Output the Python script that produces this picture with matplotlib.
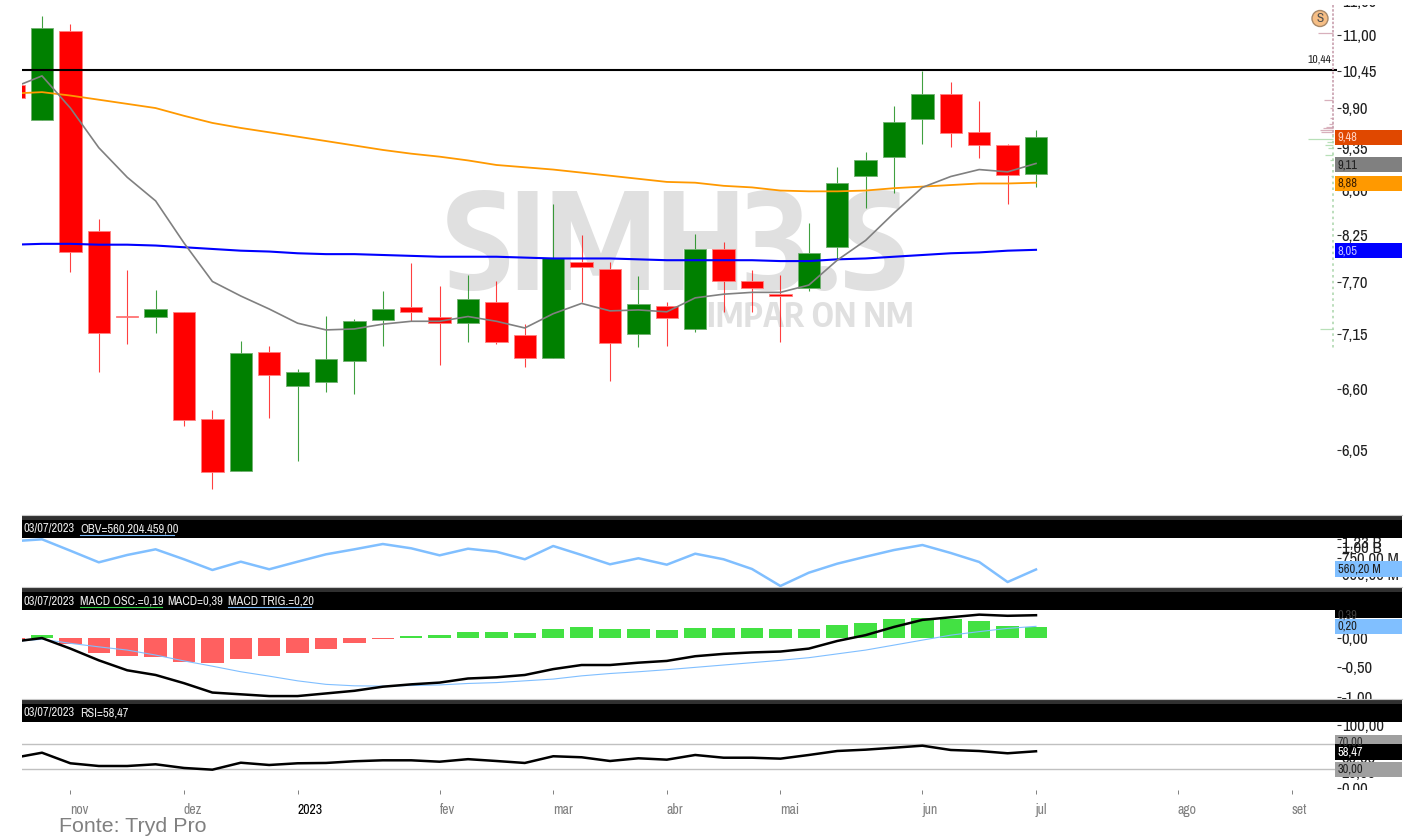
import numpy as np
import matplotlib
matplotlib.use("Agg")
import matplotlib.pyplot as plt
from matplotlib import font_manager as fm
from matplotlib.patches import Rectangle, Circle
from matplotlib.ticker import FixedLocator, FixedFormatter, NullLocator

# the chart text is a squeezed UI font, use a narrow one when it is there
installed = {f.name for f in fm.fontManager.ttflist}
has_narrow = "Archivo Narrow" in installed
has_cond = "Encode Sans Condensed" in installed
plt.rcParams["font.family"] = ["Archivo Narrow", "Roboto"] if has_narrow else ["Roboto"]
fs = 1.0 if has_narrow else 0.84
mark_font = ["Encode Sans Condensed", "Roboto"] if has_cond else ["Roboto"]

W, H = 1412, 838

# weekly candles, the first one is cut by the left edge
opens = [10.24, 9.73, 11.06, 8.29, 7.34, 7.33, 7.38, 6.32, 5.87, 6.96, 6.63, 6.67, 6.87,
         7.29, 7.43, 7.33, 7.26, 7.48, 7.14, 6.90, 7.93, 7.85, 7.15, 7.44, 7.20, 8.08,
         7.72, 7.57, 7.64, 8.10, 8.97, 9.23, 9.74, 10.10, 9.56, 9.39, 9.00]
closes = [10.05, 11.11, 8.05, 7.16, 7.32, 7.41, 6.31, 5.86, 6.95, 6.74, 6.77, 6.89, 7.28,
          7.41, 7.38, 7.26, 7.52, 7.07, 6.90, 7.97, 7.87, 7.06, 7.46, 7.31, 8.08, 7.71,
          7.64, 7.55, 8.03, 8.89, 9.19, 9.70, 10.10, 9.55, 9.39, 8.99, 9.50]
highs = [10.24, 11.30, 11.17, 8.44, 7.84, 7.62, 7.38, 6.41, 7.08, 7.03, 6.80, 7.34, 7.30,
         7.60, 7.92, 7.66, 7.78, 7.72, 7.25, 8.62, 8.24, 7.93, 7.77, 7.49, 8.26, 8.16,
         7.84, 7.78, 8.39, 9.10, 9.29, 9.93, 10.45, 10.28, 10.00, 9.40, 9.59]
lows = [10.05, 9.73, 7.82, 6.77, 7.05, 7.16, 6.26, 5.72, 5.87, 6.33, 5.95, 6.57, 6.56,
        7.03, 7.28, 6.84, 7.07, 7.05, 6.82, 6.90, 7.48, 6.68, 7.01, 7.03, 7.17, 7.38,
        7.38, 7.07, 7.61, 7.95, 8.57, 8.76, 9.40, 9.36, 9.21, 8.62, 8.83]

ma_gray = [10.20, 10.37, 9.90, 9.35, 8.96, 8.66, 8.15, 7.71, 7.55, 7.41, 7.26, 7.19, 7.20,
           7.25, 7.28, 7.28, 7.33, 7.28, 7.21, 7.36, 7.47, 7.39, 7.40, 7.38, 7.53, 7.57,
           7.59, 7.59, 7.67, 7.95, 8.18, 8.51, 8.83, 8.97, 9.06, 9.03, 9.14]
ma_orange = [10.11, 10.13, 10.08, 10.02, 9.96, 9.90, 9.79, 9.69, 9.62, 9.56, 9.50, 9.44,
             9.38, 9.32, 9.27, 9.23, 9.18, 9.12, 9.09, 9.06, 9.02, 8.98, 8.94, 8.90, 8.89,
             8.85, 8.83, 8.79, 8.78, 8.78, 8.79, 8.82, 8.84, 8.86, 8.88, 8.88, 8.89]
ma_blue = [8.13, 8.14, 8.14, 8.13, 8.13, 8.12, 8.10, 8.08, 8.06, 8.05, 8.03, 8.02, 8.02,
           8.01, 8.00, 7.99, 7.99, 7.99, 7.98, 7.97, 7.97, 7.97, 7.96, 7.95, 7.95, 7.95,
           7.95, 7.94, 7.94, 7.96, 7.97, 7.99, 8.01, 8.03, 8.04, 8.06, 8.07]
level = 10.46

# volume at price on the right edge
vp_up_price = [11.03, 10.02, 9.90, 9.76, 9.67, 9.64, 9.62, 9.59, 9.56]
vp_up_size = [15, 9, 3, 3, 4, 7, 10, 13, 12]
vp_down_price = [9.47, 9.43, 9.39, 9.35, 9.25, 9.19, 8.98, 7.20]
vp_down_size = [25, 6, 8, 5, 8, 3, 2, 13]

obv = [1150, 1207, 903, 672, 810, 936, 726, 553, 683, 563, 683, 824, 936, 1071, 960, 803,
       950, 880, 726, 1018, 810, 639, 745, 633, 837, 726, 567, 368, 516, 649, 775, 919,
       1044, 852, 678, 407, 560.2]

macd_osc = [-0.02, 0.05, -0.10, -0.26, -0.31, -0.33, -0.40, -0.43, -0.36, -0.31, -0.26,
            -0.18, -0.09, -0.02, 0.03, 0.05, 0.10, 0.10, 0.085, 0.16, 0.19, 0.16, 0.16,
            0.14, 0.18, 0.18, 0.18, 0.16, 0.16, 0.23, 0.26, 0.32, 0.35, 0.33, 0.29, 0.21, 0.19]
macd = [-0.06, 0.0, -0.18, -0.38, -0.55, -0.63, -0.77, -0.93, -0.96, -0.99, -0.99, -0.945,
        -0.90, -0.83, -0.79, -0.76, -0.69, -0.67, -0.63, -0.53, -0.46, -0.46, -0.42, -0.39,
        -0.31, -0.27, -0.245, -0.23, -0.18, -0.05, 0.05, 0.19, 0.31, 0.355, 0.40, 0.38, 0.39]
macd_trig = [-0.06, -0.02, -0.09, -0.15, -0.205, -0.29, -0.39, -0.48, -0.575, -0.65, -0.73,
             -0.79, -0.815, -0.82, -0.81, -0.80, -0.775, -0.76, -0.73, -0.70, -0.645, -0.605,
             -0.575, -0.54, -0.50, -0.46, -0.42, -0.38, -0.335, -0.27, -0.205, -0.12, -0.035,
             0.05, 0.11, 0.165, 0.20]

rsi = [48, 56.2, 39.5, 35.2, 35.2, 37.9, 32.1, 29.4, 40.4, 36.8, 39.5, 40, 42.7, 44.2, 44.2,
       42, 46, 43.1, 40, 50.6, 49, 43.1, 47.4, 45.2, 52.6, 48.3, 48.3, 46.8, 52.6, 58.9, 61,
       64.1, 67.3, 60.5, 58.9, 55.3, 58.47]

price_ticks = [11.55, 11.00, 10.45, 9.90, 9.35, 8.80, 8.25, 7.70, 7.15, 6.60, 6.05, 5.50]
month_pos = [1, 5, 9, 14, 18, 22, 26, 31, 35, 40, 44]
month_labels = ["nov", "dez", "2023", "fev", "mar", "abr", "mai", "jun", "jul", "ago", "set"]

idx = np.arange(-1, 36)
spacing = 28.4
x_left, x_right = 22, 1337
xlim = ((x_left - 42) / spacing, (x_right - 42) / spacing)


def comma(v):
    return f"{v:.2f}".replace(".", ",")


def panel(top, bottom, ylim, log=False):
    ax = fig.add_axes([x_left / W, 1 - bottom / H, (x_right - x_left) / W, (bottom - top) / H])
    if log:
        ax.set_yscale("log")
    ax.set_xlim(*xlim)
    ax.set_ylim(*ylim)
    for s in ax.spines.values():
        s.set_visible(False)
    ax.yaxis.tick_right()
    ax.yaxis.set_minor_locator(NullLocator())
    ax.tick_params(axis="y", length=2.9, width=0.8, pad=0.5, labelsize=12 * fs,
                   color="#303030", labelcolor="#202020")
    ax.set_xticks([])
    return ax


def set_yticks(ax, ticks, labels):
    ax.yaxis.set_major_locator(FixedLocator(ticks))
    ax.yaxis.set_major_formatter(FixedFormatter(labels))


fig = plt.figure(figsize=(W / 100, H / 100), dpi=100, facecolor="white")

# price panel
ax = panel(0, 515, (5.506, 11.569), log=True)
set_yticks(ax, price_ticks, [comma(t) for t in price_ticks])
ax.text((676 - x_left) / (x_right - x_left), 1 - 250 / 515, "SIMH3.S", transform=ax.transAxes,
        family=mark_font, fontsize=96, fontweight="bold", color="#E0E0E0",
        ha="center", va="center", zorder=0)
ax.text((810 - x_left) / (x_right - x_left), 1 - 317 / 515, "IMPAR ON NM", transform=ax.transAxes,
        family=mark_font, fontsize=24, fontweight="bold", color="#E0E0E0",
        ha="center", va="center", zorder=0)

for i, o, c, h, l in zip(idx, opens, closes, highs, lows):
    col = "#008000" if c > o else "#FF0000"
    edge = "#70B070" if c > o else "#FF8080"
    ax.vlines(i, l, h, color=col, lw=0.8, alpha=0.75, zorder=2)
    ax.bar(i, abs(c - o), bottom=min(o, c), width=0.79, color=col, edgecolor=edge,
           linewidth=0.6, zorder=3)

ax.plot(idx, ma_blue, color="#0000FF", lw=1.5, zorder=4)
ax.plot(idx, ma_orange, color="#FF9900", lw=1.3, zorder=4)
ax.plot(idx, ma_gray, color="#808080", lw=1.2, zorder=5)
ax.axhline(level, color="black", lw=1.5, zorder=6)

vp_right = xlim[1] - 4 / spacing
ax.hlines(vp_up_price, vp_right - np.array(vp_up_size) / spacing, vp_right, color="#D8B0BC", lw=0.9)
ax.hlines(vp_down_price, vp_right - np.array(vp_down_size) / spacing, vp_right, color="#B8E0B8", lw=0.9)

# OBV panel
ax_obv = panel(538, 587, (358.6, 1248), log=True)
set_yticks(ax_obv, [1230, 1000, 750, 500], ["", "1,00 B", "750,00 M", "500,00 M"])
ax_obv.annotate("1,23 B", xy=(1, 1230), xycoords=("axes fraction", "data"), xytext=(3.4, -3.2),
                textcoords="offset points", fontsize=12 * fs, color="#202020", va="center",
                annotation_clip=False)
ax_obv.plot(idx, obv, color="#80BFFF", lw=1.8)

# MACD panel
ax_macd = panel(610, 699, (-1.04, 0.479))
set_yticks(ax_macd, [0.0, -0.5, -1.0], ["0,00", "-0,50", "-1,00"])
osc_colors = ["#43E143" if v > 0 else "#FF6060" for v in macd_osc]
ax_macd.bar(idx, macd_osc, width=0.79, color=osc_colors, linewidth=0, zorder=2)
ax_macd.plot(idx, macd_trig, color="#80BFFF", lw=0.8, zorder=3)
ax_macd.plot(idx, macd, color="black", lw=1.8, zorder=4)

# RSI panel
ax_rsi = panel(722, 790, (-2.7, 104.7))
set_yticks(ax_rsi, [100, 75, 50, 25, 0], ["100,00", "75,00", "50,00", "25,00", "0,00"])
ax_rsi.axhline(70, color="#C0C0C0", lw=1)
ax_rsi.axhline(30, color="#C0C0C0", lw=1)
ax_rsi.plot(idx, rsi, color="black", lw=1.8)
ax_rsi.set_xticks(month_pos)
ax_rsi.set_xticklabels(month_labels, ha="left", fontsize=10 * fs)
ax_rsi.tick_params(axis="x", length=3.2, width=0.7, pad=6, color="#808080")
for lab in ax_rsi.get_xticklabels():
    lab.set_color("black" if lab.get_text() == "2023" else "#808080")

# headers, price tags and other screen furniture in pixel coords
ov = fig.add_axes([0, 0, 1, 1], zorder=10)
ov.set_xlim(0, W)
ov.set_ylim(H, 0)
ov.axis("off")
ov.patch.set_alpha(0)

ov.add_patch(Rectangle((1335, 0), 67, 5, color="white", lw=0))
ov.add_patch(Rectangle((1335, 790), 67, 8, color="white", lw=0))
ov.plot([1333, 1333], [5, 135], color="#C8A0AE", lw=1.2, ls=(0, (1.5, 1)))
ov.plot([1333, 1333], [135, 350], color="#B0D8B0", lw=1.2, ls=(0, (1.5, 2)))

for y0, y1 in [(515, 538), (587, 610), (699, 722)]:
    ov.add_patch(Rectangle((22, y0), 1380, y1 - y0, color="black", lw=0))
    ov.add_patch(Rectangle((22, y0), 1380, 5, color="#303030", lw=0))
    ov.plot([22, 1402], [y0, y0], color="#C8C8C8", lw=0.8)


def head(x, y, s):
    ov.text(x, y, s, color="#E8E8E8", fontsize=9 * fs, va="center", ha="left")


head(24, 528.5, "03/07/2023")
head(80, 528.5, "OBV=560.204.459,00")
ov.plot([80, 174], [534.5, 534.5], color="#80BFFF", lw=0.8)
head(24, 601, "03/07/2023")
head(80, 601, "MACD OSC.=0,19")
head(167, 601, "MACD=0,39")
head(228, 601, "MACD TRIG.=0,20")
ov.plot([80, 162], [606.5, 606.5], color="#2ECC40", lw=0.8)
ov.plot([228, 311], [606.5, 606.5], color="#80BFFF", lw=0.8)
head(24, 712.5, "03/07/2023")
head(80, 712.5, "RSI=58,47")

tags = [
    (130, 145, "#E04800", "9,48", "#FFD0C0"),
    (157, 172, "#808080", "9,11", "#202020"),
    (176, 191, "#FF9900", "8,88", "#402000"),
    (243, 258, "#0000FF", "8,05", "#C0C0FF"),
    (561, 577, "#80BFFF", "560,20 M", "#202020"),
    (610, 618, "black", "0,39", "#404040"),
    (618.5, 634, "#80BFFF", "0,20", "#202020"),
    (735, 751, "#A0A0A0", "70,00", "#303030"),
    (744, 760, "black", "58,47", "white"),
    (761.5, 777, "#A0A0A0", "30,00", "#202020"),
]
for y0, y1, col, s, tc in tags:
    ov.add_patch(Rectangle((1335, y0), 67, y1 - y0, color=col, lw=0))
    yc = 615 if s == "0,39" else 742 if s == "70,00" else (y0 + y1) / 2
    ov.text(1338, yc, s, color=tc, fontsize=9 * fs, va="center", ha="left")

ov.text(1331, 60, "10,44", color="#202020", fontsize=8.4 * fs, ha="right", va="center")
ov.add_patch(Circle((1320, 18.5), 8, facecolor="#F6BE85", edgecolor="#A88868", lw=1))
ov.text(1320, 18.5, "S", color="#505050", fontsize=9.5, fontweight="bold", ha="center", va="center")
ov.text(59, 826, "Fonte: Tryd Pro", family="Liberation Sans", color="#808080", fontsize=15.4,
        ha="left", va="center")

fig.savefig("out.png", dpi=100)
